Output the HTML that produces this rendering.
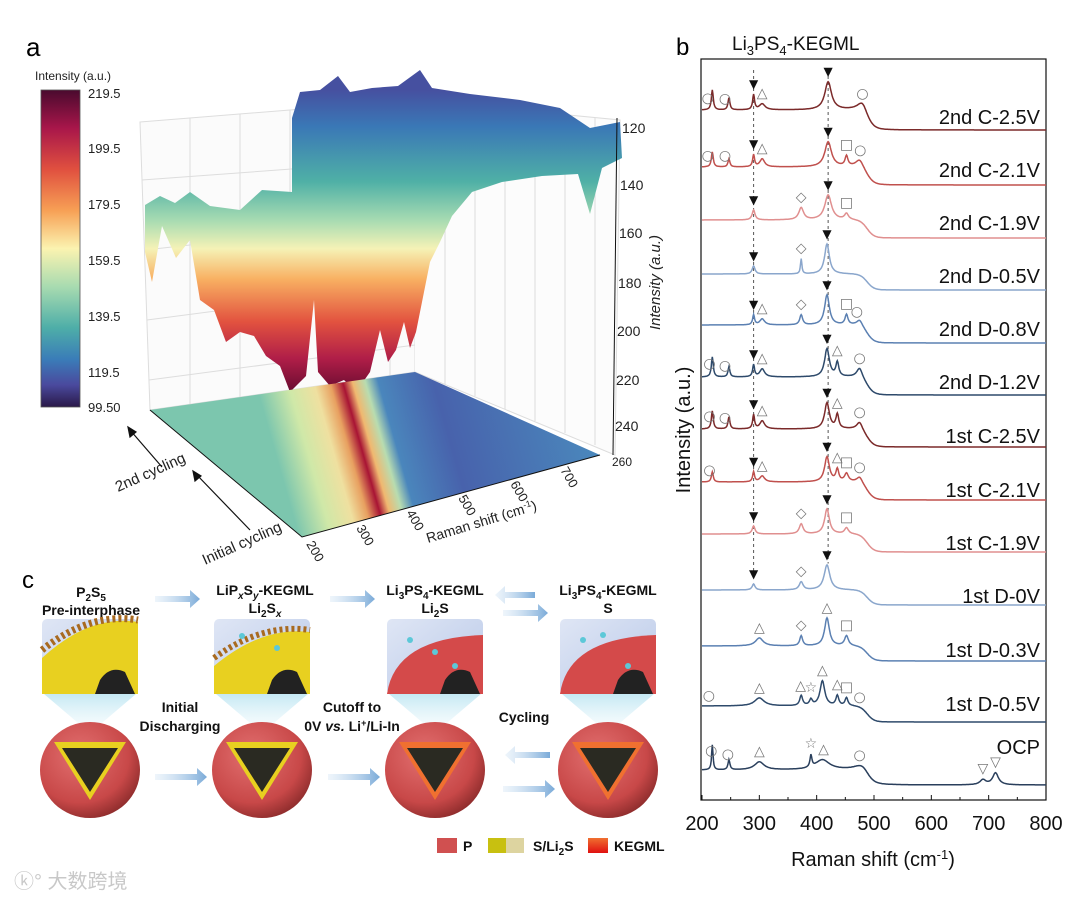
<!DOCTYPE html>
<html><head><meta charset="utf-8"><style>
html,body{margin:0;padding:0;background:#fff;}
svg{display:block;font-family:"Liberation Sans",Arial,sans-serif;}
.cb{font-size:13px;fill:#222}
.bold{font-weight:bold;font-size:14px;fill:#111}
</style></head><body>
<svg id="fig" width="1080" height="900" viewBox="0 0 1080 900" xmlns="http://www.w3.org/2000/svg">
<defs>
<linearGradient id="cmap" x1="0" y1="0" x2="0" y2="1">
<stop offset="0" stop-color="#4a0a2e"/><stop offset="0.12" stop-color="#a8164a"/><stop offset="0.25" stop-color="#e0503f"/><stop offset="0.38" stop-color="#f7a055"/><stop offset="0.5" stop-color="#fbf3b0"/><stop offset="0.62" stop-color="#a8dbb0"/><stop offset="0.75" stop-color="#4eaea8"/><stop offset="0.85" stop-color="#3a7cb8"/><stop offset="0.93" stop-color="#4a4a9e"/><stop offset="1" stop-color="#2a1848"/>
</linearGradient>
<linearGradient id="surf" gradientUnits="userSpaceOnUse" x1="0" y1="90" x2="0" y2="395">
<stop offset="0" stop-color="#4650a0"/><stop offset="0.12" stop-color="#3a78b6"/><stop offset="0.3" stop-color="#4fb0a6"/><stop offset="0.43" stop-color="#a9dcb2"/><stop offset="0.52" stop-color="#f5f2b6"/><stop offset="0.62" stop-color="#f8b062"/><stop offset="0.76" stop-color="#e2523f"/><stop offset="0.88" stop-color="#b01e48"/><stop offset="1" stop-color="#620a2e"/>
</linearGradient>
<linearGradient id="floor" gradientUnits="userSpaceOnUse" x1="300" y1="540" x2="600" y2="455">
<stop offset="0" stop-color="#7cc6ae"/><stop offset="0.1" stop-color="#cfe8a8"/><stop offset="0.18" stop-color="#efe0a0"/><stop offset="0.23" stop-color="#e8a060"/><stop offset="0.27" stop-color="#a81434"/><stop offset="0.3" stop-color="#f0b870"/><stop offset="0.34" stop-color="#b8dcb0"/><stop offset="0.38" stop-color="#4a86bc"/><stop offset="0.55" stop-color="#4862ac"/><stop offset="1" stop-color="#4a88bc"/>
</linearGradient>
<linearGradient id="inset" x1="0" y1="0" x2="1" y2="1"><stop offset="0" stop-color="#dfe6f5"/><stop offset="1" stop-color="#b8c8e8"/></linearGradient>
<radialGradient id="sph" cx="0.4" cy="0.35" r="0.7"><stop offset="0" stop-color="#e27070"/><stop offset="0.7" stop-color="#c84848"/><stop offset="1" stop-color="#8a2a2a"/></radialGradient>
<linearGradient id="cone" x1="0" y1="0" x2="0" y2="1"><stop offset="0" stop-color="#bfe6f2" stop-opacity="0.9"/><stop offset="1" stop-color="#d8f0f8" stop-opacity="0.2"/></linearGradient>
<linearGradient id="arr" x1="0" y1="0" x2="1" y2="0"><stop offset="0" stop-color="#c8def2" stop-opacity="0.3"/><stop offset="1" stop-color="#7aaad8"/></linearGradient>
<linearGradient id="keg" x1="0" y1="0" x2="0" y2="1"><stop offset="0" stop-color="#f07030"/><stop offset="1" stop-color="#e01010"/></linearGradient>
</defs>

<!-- ===== Panel a ===== -->
<g>
<text x="26" y="56" font-size="26">a</text>
<text x="35" y="80" font-size="12" fill="#222">Intensity (a.u.)</text>
<rect x="41" y="90" width="39" height="317" fill="url(#cmap)" stroke="#555" stroke-width="0.8"/>
<g class="cb">
<text x="88" y="98">219.5</text><text x="88" y="153">199.5</text><text x="88" y="209">179.5</text><text x="88" y="265">159.5</text><text x="88" y="321">139.5</text><text x="88" y="377">119.5</text><text x="88" y="412">99.50</text>
</g>
<g stroke="#ddd" stroke-width="1" fill="none">
<path d="M140 122 L415 100 L415 372 L150 410 Z" fill="#fbfbfb"/>
<path d="M415 100 L620 120 L615 455 L415 372" fill="#fcfcfc"/>
<path d="M190 118V404 M240 114V397 M290 110V390 M340 106V384 M390 102V376"/>
<path d="M445 103V384 M475 106V396 M505 109V409 M535 112V421 M565 115V433 M595 118V445"/>
<path d="M142 180 L415 160 M145 250 L415 220 M147 320 L415 285 M149 380 L415 345"/>
</g>
<path fill="url(#surf)" d="M145 205 L160 196 L175 203 L190 192 L210 206 L240 210 L262 190 L292 192 L292 118 L300 92 L320 90 L338 76 L350 92 L372 88 L398 86 L420 70 L432 88 L470 94 L520 100 L560 108 L590 128 L620 122 L622 158 L602 168 L590 214 L578 174 L542 176 L502 182 L472 192 L452 216 L440 242 L430 262 L424 292 L416 332 L410 348 L404 322 L396 350 L388 362 L380 330 L370 372 L356 392 L344 380 L330 386 L318 372 L314 300 L306 376 L290 392 L280 366 L266 356 L254 336 L240 332 L226 342 L214 310 L200 300 L190 240 L176 258 L162 226 L152 282 L145 252 Z"/>
<path fill="url(#floor)" d="M150 410 L415 372 L600 455 L302 537 Z"/>
<g stroke="#111" stroke-width="1" fill="none">
<path d="M150 410 L302 537 L600 455"/>
<path d="M617 118 L613 455"/>
</g>
<g font-size="14" fill="#222">
<text x="622" y="133">120</text><text x="620" y="190">140</text><text x="619" y="238">160</text><text x="618" y="288">180</text><text x="617" y="336">200</text><text x="616" y="385">220</text><text x="615" y="431">240</text><text x="612" y="466" font-size="12">260</text>
</g>
<text transform="translate(660,330) rotate(-90)" font-size="15" font-style="italic" fill="#222">Intensity (a.u.)</text>
<g font-size="13" fill="#222">
<text transform="translate(306,544) rotate(60)">200</text><text transform="translate(356,528) rotate(60)">300</text><text transform="translate(406,513) rotate(60)">400</text><text transform="translate(458,498) rotate(60)">500</text><text transform="translate(510,484) rotate(60)">600</text><text transform="translate(560,470) rotate(60)">700</text>
</g>
<text transform="translate(428,543) rotate(-17)" font-size="14" fill="#222">Raman shift (cm<tspan dy="-5" font-size="9">-1</tspan><tspan dy="5">)</tspan></text>
<text transform="translate(118,492) rotate(-24)" font-size="15" fill="#222">2nd cycling</text>
<text transform="translate(205,565) rotate(-24)" font-size="15" fill="#222">Initial cycling</text>
<g stroke="#111" stroke-width="1.2" fill="#111">
<path d="M162 467 L130 430"/><path d="M128 427 L130 437 L136 432 Z"/>
<path d="M250 530 L196 474"/><path d="M193 471 L195 481 L201 476 Z"/>
</g>
</g>

<!-- ===== Panel c ===== -->
<g>
<text x="22" y="588" font-size="24">c</text>
<g class="bold" text-anchor="middle">
<text x="91" y="597">P<tspan dy="4" font-size="10">2</tspan><tspan dy="-4">S</tspan><tspan dy="4" font-size="10">5</tspan></text>
<text x="91" y="615">Pre-interphase</text>
<text x="265" y="595">LiP<tspan dy="4" font-size="10" font-style="italic">x</tspan><tspan dy="-4">S</tspan><tspan dy="4" font-size="10" font-style="italic">y</tspan><tspan dy="-4">-KEGML</tspan></text>
<text x="265" y="613">Li<tspan dy="4" font-size="10">2</tspan><tspan dy="-4">S</tspan><tspan dy="4" font-size="10" font-style="italic">x</tspan></text>
<text x="435" y="595">Li<tspan dy="4" font-size="10">3</tspan><tspan dy="-4">PS</tspan><tspan dy="4" font-size="10">4</tspan><tspan dy="-4">-KEGML</tspan></text>
<text x="435" y="613">Li<tspan dy="4" font-size="10">2</tspan><tspan dy="-4">S</tspan></text>
<text x="608" y="595">Li<tspan dy="4" font-size="10">3</tspan><tspan dy="-4">PS</tspan><tspan dy="4" font-size="10">4</tspan><tspan dy="-4">-KEGML</tspan></text>
<text x="608" y="613">S</text>
</g>
<g fill="url(#arr)">
<path d="M155 596 h35 v-6 l10 9 l-10 9 v-6 h-35z"/>
<path d="M330 596 h35 v-6 l10 9 l-10 9 v-6 h-35z"/>
<path d="M503 610 h35 v-6 l10 9 l-10 9 v-6 h-35z"/>
<path d="M535 592 h-30 v-6 l-10 9 l10 9 v-6 h30z"/>
<path d="M155 774 h42 v-6 l10 9 l-10 9 v-6 h-42z"/>
<path d="M328 774 h42 v-6 l10 9 l-10 9 v-6 h-42z"/>
<path d="M503 786 h42 v-6 l10 9 l-10 9 v-6 h-42z"/>
<path d="M550 752 h-35 v-6 l-10 9 l10 9 v-6 h35z"/>
</g>
<g>
<g transform="translate(90,0)">
<path d="M-6 728 L-46 694 L46 694 L6 728Z" fill="url(#cone)"/>
<rect x="-48" y="619" width="96" height="75" rx="5" fill="url(#inset)"/>
<path d="M-48 658 Q0 614 48 622 L48 694 L-48 694Z" fill="#e8d020"/>
<path d="M-48 650 Q0 612 48 620" stroke="#a86a20" stroke-width="7" stroke-dasharray="3 3" fill="none"/>
<path d="M10 680 q10 -15 25 -8 l10 22 h-40z" fill="#222"/>
<ellipse cx="0" cy="770" rx="50" ry="48" fill="url(#sph)"/><path d="M-36 742 L36 742 L0 800 Z" fill="#e8d020"/><path d="M-28 748 L28 748 L0 792 Z" fill="#2a2a22"/>
</g>
<g transform="translate(262,0)">
<path d="M-6 728 L-46 694 L46 694 L6 728Z" fill="url(#cone)"/>
<rect x="-48" y="619" width="96" height="75" rx="5" fill="url(#inset)"/>
<path d="M-48 666 Q0 626 48 632 L48 694 L-48 694Z" fill="#e8d020"/>
<path d="M-48 658 Q0 623 48 630" stroke="#a86a20" stroke-width="6" stroke-dasharray="3 3" fill="none"/>
<circle cx="-20" cy="636" r="3" fill="#5cc8d8"/><circle cx="15" cy="648" r="3" fill="#5cc8d8"/>
<path d="M10 680 q10 -15 25 -8 l10 22 h-40z" fill="#222"/>
<ellipse cx="0" cy="770" rx="50" ry="48" fill="url(#sph)"/><path d="M-36 742 L36 742 L0 800 Z" fill="#e8d020"/><path d="M-28 748 L28 748 L0 792 Z" fill="#2a2a22"/>
</g>
<g transform="translate(435,0)">
<path d="M-6 728 L-46 694 L46 694 L6 728Z" fill="url(#cone)"/>
<rect x="-48" y="619" width="96" height="75" rx="5" fill="url(#inset)"/>
<path d="M-48 694 Q-40 638 48 635 L48 694Z" fill="#d44a4a"/>
<circle cx="-25" cy="640" r="3" fill="#5cc8d8"/><circle cx="0" cy="652" r="3" fill="#5cc8d8"/><circle cx="20" cy="666" r="3" fill="#5cc8d8"/>
<path d="M10 680 q10 -15 25 -8 l10 22 h-40z" fill="#222"/>
<ellipse cx="0" cy="770" rx="50" ry="48" fill="url(#sph)"/><path d="M-36 742 L36 742 L0 800 Z" fill="#f07030"/><path d="M-28 748 L28 748 L0 792 Z" fill="#2a2a22"/>
</g>
<g transform="translate(608,0)">
<path d="M-6 728 L-46 694 L46 694 L6 728Z" fill="url(#cone)"/>
<rect x="-48" y="619" width="96" height="75" rx="5" fill="url(#inset)"/>
<path d="M-48 694 Q-40 638 48 635 L48 694Z" fill="#d44a4a"/>
<circle cx="-25" cy="640" r="3" fill="#5cc8d8"/><circle cx="-5" cy="635" r="3" fill="#5cc8d8"/><circle cx="20" cy="666" r="3" fill="#5cc8d8"/>
<path d="M10 680 q10 -15 25 -8 l10 22 h-40z" fill="#222"/>
<ellipse cx="0" cy="770" rx="50" ry="48" fill="url(#sph)"/><path d="M-36 742 L36 742 L0 800 Z" fill="#f07030"/><path d="M-28 748 L28 748 L0 792 Z" fill="#2a2a22"/>
</g>
</g>
<g class="bold" text-anchor="middle">
<text x="180" y="712">Initial</text><text x="180" y="731">Discharging</text>
<text x="352" y="712">Cutoff to</text><text x="352" y="731">0V <tspan font-style="italic">vs.</tspan> Li<tspan dy="-5" font-size="9">+</tspan><tspan dy="5">/Li-In</tspan></text>
<text x="524" y="722">Cycling</text>
</g>
<g>
<rect x="437" y="838" width="20" height="15" fill="#d05050"/>
<text x="463" y="851" class="bold">P</text>
<rect x="488" y="838" width="18" height="15" fill="#c8c010"/><rect x="506" y="838" width="18" height="15" fill="#ddd4a0"/>
<text x="533" y="851" class="bold">S/Li<tspan dy="4" font-size="10">2</tspan><tspan dy="-4">S</tspan></text>
<rect x="588" y="838" width="20" height="15" fill="url(#keg)"/>
<text x="614" y="851" class="bold">KEGML</text>
</g>
<text x="14" y="888" font-size="20" fill="#c8c8c8" font-family="'Liberation Sans','Noto Sans CJK SC',sans-serif">ⓚ° 大数跨境</text>
</g>

<!-- ===== Panel b ===== -->
<g id="panelB">
<text x="676" y="55" font-size="24">b</text>
<text x="732" y="50" font-size="19" fill="#111">Li<tspan dy="5" font-size="13">3</tspan><tspan dy="-5">PS</tspan><tspan dy="5" font-size="13">4</tspan><tspan dy="-5">-KEGML</tspan></text>
<rect x="701" y="59" width="345" height="741" fill="none" stroke="#111" stroke-width="1.2"/>
<text transform="translate(690,430) rotate(-90)" text-anchor="middle" font-size="20" fill="#111">Intensity (a.u.)</text>
<text x="873" y="866" text-anchor="middle" font-size="20" fill="#111">Raman shift (cm<tspan dy="-7" font-size="13">-1</tspan><tspan dy="7">)</tspan></text>
</g>
</svg>
<script>
const categories = ["2nd C-2.5V","2nd C-2.1V","2nd C-1.9V","2nd D-0.5V","2nd D-0.8V","2nd D-1.2V","1st C-2.5V","1st C-2.1V","1st C-1.9V","1st D-0V","1st D-0.3V","1st D-0.5V","OCP"];
const offsets = [670,615,562,510,457,405,353,300,248,195,139,78,15];
const shoulders = [20,18,18,16,18,18,18,18,18,15,15,16,15];
const peaks = [
 [[218,20,2],[247,12,2],[290,15,2],[305,6,6],[420,28,7],[480,10,10]],
 [[218,15,2],[247,8,2],[290,12,2],[305,8,5],[420,25,7],[452,10,3],[475,8,8]],
 [[290,10,3],[373,12,5],[420,25,7],[452,6,4]],
 [[290,8,3],[373,15,1.5],[418,30,5]],
 [[290,10,2],[305,6,5],[373,10,3],[418,30,5],[452,10,3],[475,6,6]],
 [[218,20,2],[247,10,2],[290,12,2],[305,8,5],[418,28,5],[436,14,3],[475,10,6]],
 [[218,18,2],[247,12,2],[290,14,2],[305,8,5],[418,26,5],[436,14,3],[475,8,6]],
 [[218,10,2],[290,10,2],[305,6,5],[418,25,5],[436,12,3],[452,8,4],[475,6,6]],
 [[290,8,3],[373,10,4],[418,25,5],[452,6,4]],
 [[290,6,3],[373,8,4],[418,25,6]],
 [[300,8,8],[373,10,3],[418,28,5],[452,10,4]],
 [[300,8,10],[373,10,3],[390,6,3],[410,25,5],[436,10,3],[452,8,3]],
 [[218,25,1.5],[247,10,2],[300,8,10],[390,12,2],[410,10,15],[480,6,15],[690,5,6],[712,12,6]]
];
const markers = [
 [[210,"○"],[240,"○"],[290,"▼"],[305,"△"],[420,"▼"],[480,"○"]],
 [[210,"○"],[240,"○"],[290,"▼"],[305,"△"],[420,"▼"],[452,"□"],[476,"○"]],
 [[290,"▼"],[373,"◇"],[420,"▼"],[452,"□"]],
 [[290,"▼"],[373,"◇"],[418,"▼"]],
 [[290,"▼"],[305,"△"],[373,"◇"],[418,"▼"],[452,"□"],[470,"○"]],
 [[213,"○"],[240,"○"],[290,"▼"],[305,"△"],[418,"▼"],[436,"△"],[475,"○"]],
 [[213,"○"],[240,"○"],[290,"▼"],[305,"△"],[418,"▼"],[436,"△"],[475,"○"]],
 [[213,"○"],[290,"▼"],[305,"△"],[418,"▼"],[436,"△"],[452,"□"],[475,"○"]],
 [[290,"▼"],[373,"◇"],[418,"▼"],[452,"□"]],
 [[290,"▼"],[373,"◇"],[418,"▼"]],
 [[300,"△"],[373,"◇"],[418,"△"],[452,"□"]],
 [[212,"○"],[300,"△"],[372,"△"],[390,"☆"],[410,"△"],[436,"△"],[452,"□"],[475,"○"]],
 [[216,"○"],[245,"○"],[300,"△"],[390,"☆"],[412,"△"],[475,"○"],[690,"▽"],[712,"▽"]]
];
const xTicks = [200,300,400,500,600,700,800];
const colors = ["#7b2a2a","#c0504d","#e08f8f","#8aa6cc","#5b80b2","#2e4a6b","#7b2a2a","#c0504d","#e08f8f","#8aa6cc","#5b80b2","#2e4a6b","#2a3f5c"];
const labelY = [124,177,230,283,336,389,443,497,550,603,657,711,754];

const NS="http://www.w3.org/2000/svg";
const g=document.getElementById("panelB");
const X0=702,X1=1046,Y0=800;
function xs(v){return X0+(v-200)/600*(X1-X0);}
function ys(v){return Y0-v;}
function val(i,x){
 let v=offsets[i]+shoulders[i]/(1+Math.exp((x-488)/6));
 for(const p of peaks[i]){const d=(x-p[0])/p[2];v+=p[1]/(1+d*d);}
 return v;
}
function mk(tag,attrs){const e=document.createElementNS(NS,tag);for(const k in attrs)e.setAttribute(k,attrs[k]);g.appendChild(e);return e;}
[290,420].forEach(function(p){
 const l=mk("line",{x1:xs(p),x2:xs(p),y1:70,y2:ys(val(9,p))-4,stroke:"#555","stroke-width":1,"stroke-dasharray":"3 3"});
 
 
});
categories.forEach(function(c,i){
 let d="";
 for(let x=200;x<=800;x+=1){d+=(x===200?"M":"L")+xs(x).toFixed(1)+" "+ys(val(i,x)).toFixed(1);}
 const p=mk("path",{d:d,fill:"none",stroke:colors[i],"stroke-width":1.5});
 
 
 const t=mk("text",{x:1040,y:labelY[i],"text-anchor":"end","font-size":20,fill:"#111"});
 t.textContent=c;
 
 
 markers[i].forEach(function(m){
  const filled=m[1]==="▼";
  const s=mk("text",{x:xs(m[0]),y:ys(val(i,m[0]))-6,"text-anchor":"middle","font-size":filled?12:14,fill:filled?"#111":"#777",
    "font-family":"'DejaVu Sans',sans-serif"});
  s.textContent=m[1];
  
  
 });
});
xTicks.forEach(function(v){
 const t=mk("text",{x:xs(v),y:830,"text-anchor":"middle","font-size":20,fill:"#111"});
 t.textContent=v;
 
 
 const l=mk("line",{x1:xs(v),x2:xs(v),y1:800,y2:795,stroke:"#111"});
 
 
 if(v<800){const l2=mk("line",{x1:xs(v+50),x2:xs(v+50),y1:800,y2:797,stroke:"#111"});
 
 }
});
</script>
</body></html>
